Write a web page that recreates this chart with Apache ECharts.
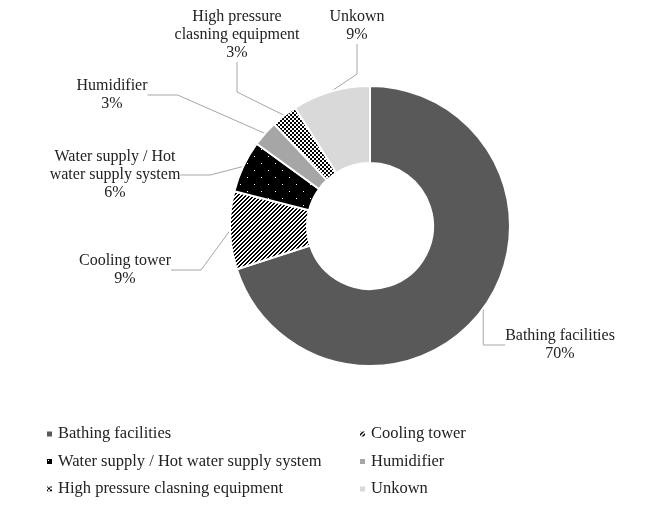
<!DOCTYPE html>
<html>
<head>
<meta charset="utf-8">
<script src="https://cdn.jsdelivr.net/npm/echarts@6/dist/echarts.min.js"></script>
<style>
  html, body { margin: 0; padding: 0; background: #fff; }
  #chart { width: 672px; height: 531px; }
</style>
</head>
<body>
<div id="chart"></div>
<script>
// 数据
const categories = [
  "Bathing facilities",
  "Cooling tower",
  "Water supply / Hot water supply system",
  "Humidifier",
  "High pressure clasning equipment",
  "Unkown"
];
const shares = [70, 9, 6, 3, 3, 9];
const labelNames = [
  "Bathing facilities",
  "Cooling tower",
  "Water supply / Hot\nwater supply system",
  "Humidifier",
  "High pressure\nclasning equipment",
  "Unkown"
];

// 填充图案（逐像素画，避免模糊）
function makePattern(size, isDark, dark, light) {
  const c = document.createElement("canvas");
  c.width = size;
  c.height = size;
  const ctx = c.getContext("2d");
  for (let y = 0; y < size; y++) {
    for (let x = 0; x < size; x++) {
      ctx.fillStyle = isDark(x, y) ? dark : light;
      ctx.fillRect(x, y, 1, 1);
    }
  }
  return { image: c, repeat: "repeat" };
}

const stripes = makePattern(4, (x, y) => (x + y) % 4 < 2, "#000", "#fff");
const dots = makePattern(
  14,
  (x, y) => !((x === 2 && y === 2) || (x === 9 && y === 9)),
  "#000",
  "#fff"
);
const checker = makePattern(4, (x, y) => (Math.floor(x / 2) + Math.floor(y / 2)) % 2 === 0, "#000", "#fff");

const fills = ["#595959", stripes, dots, "#a6a6a6", checker, "#d9d9d9"];

// 标签位置
const labelPos = [
  [560, 345],
  [125, 270],
  [115, 175],
  [112, 95],
  [237, 35],
  [357, 26]
];

const chart = echarts.init(document.getElementById("chart"));
const font = "Liberation Serif";

chart.setOption({
  animation: false,
  backgroundColor: "#fff",
  legend: [
    {
      orient: "vertical",
      left: 40,
      top: 420,
      itemWidth: 7,
      itemHeight: 7,
      itemGap: 9.5,
      icon: "rect",
      data: [categories[0], categories[2], categories[4]],
      textStyle: { fontFamily: font, fontSize: 16.5, color: "#222", lineHeight: 18 }
    },
    {
      orient: "vertical",
      left: 353,
      top: 420,
      itemWidth: 7,
      itemHeight: 7,
      itemGap: 9.5,
      icon: "rect",
      data: [categories[1], categories[3], categories[5]],
      textStyle: { fontFamily: font, fontSize: 16.5, color: "#222", lineHeight: 18 }
    }
  ],
  series: [
    {
      type: "pie",
      center: [370, 226],
      radius: [63, 140],
      startAngle: 90,
      clockwise: true,
      itemStyle: { borderColor: "#fff", borderWidth: 2 },
      label: {
        show: true,
        position: "outside",
        fontFamily: font,
        fontSize: 16,
        lineHeight: 18,
        color: "#222",
        align: "center",
        formatter: (p) => labelNames[p.dataIndex] + "\n" + p.value + "%"
      },
      labelLine: {
        show: true,
        lineStyle: { color: "#a6a6a6", width: 1 }
      },
      labelLayout: (p) => ({
        x: labelPos[p.dataIndex][0],
        y: labelPos[p.dataIndex][1],
        align: "center",
        verticalAlign: "middle"
      }),
      data: categories.map((name, i) => ({
        name: name,
        value: shares[i],
        itemStyle: { color: fills[i] }
      }))
    }
  ]
});
</script>
</body>
</html>
